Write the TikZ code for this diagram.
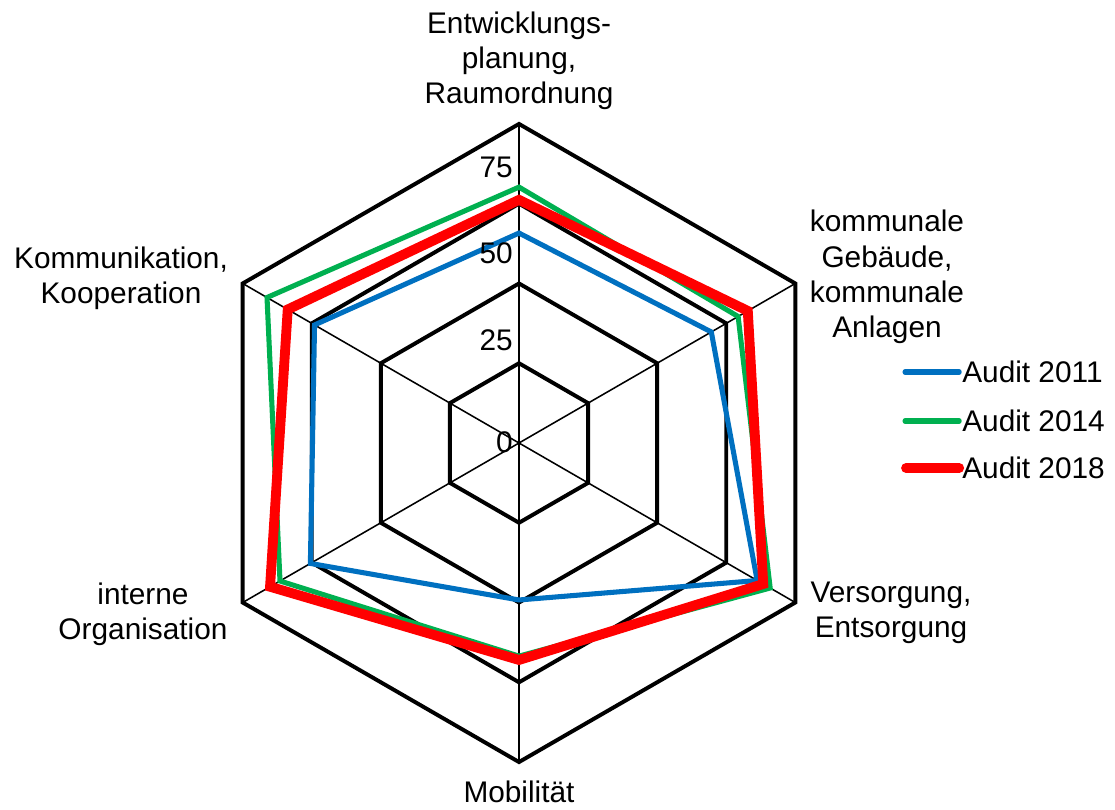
\documentclass[tikz,border=0pt]{standalone}
\usepackage{fontspec}
\setmainfont{Liberation Sans}
\usetikzlibrary{positioning}
\definecolor{blue2011}{HTML}{0070C0}
\definecolor{green2014}{HTML}{00B050}
\definecolor{red2018}{HTML}{FF0000}

\begin{document}
\begin{tikzpicture}[
	x=0.025cm, y=0.025cm,
	ring/.style={line width=2.8pt, line join=miter},
	spoke/.style={line width=1.1pt},
	audit11/.style={blue2011, line width=3.6pt, line join=miter},
	audit14/.style={green2014, line width=3.6pt, line join=miter},
	audit18/.style={red2018, line width=7pt, line join=miter},
	every node/.style={font=\fontsize{21.2}{25}\selectfont, inner sep=0pt},
]
\useasboundingbox (0,0) rectangle (1115,809);

\coordinate (o) at (519,366);

\begin{scope}[shift={(o)}, x=0.07975cm, y=0.07975cm]
% Axis ends
\coordinate (ax1) at (90:100);
\coordinate (ax2) at (30:100);
\coordinate (ax3) at (-30:100);
\coordinate (ax4) at (-90:100);
\coordinate (ax5) at (-150:100);
\coordinate (ax6) at (150:100);

% Spokes
\draw[spoke] (o) -- (ax1);
\draw[spoke] (o) -- (ax2);
\draw[spoke] (o) -- (ax3);
\draw[spoke] (o) -- (ax4);
\draw[spoke] (o) -- (ax5);
\draw[spoke] (o) -- (ax6);

% Rings
\draw[ring] (90:25) -- (30:25) -- (-30:25) -- (-90:25) -- (-150:25) -- (150:25) -- cycle;
\draw[ring] (90:50) -- (30:50) -- (-30:50) -- (-90:50) -- (-150:50) -- (150:50) -- cycle;
\draw[ring] (90:75) -- (30:75) -- (-30:75) -- (-90:75) -- (-150:75) -- (150:75) -- cycle;
\draw[ring] (ax1) -- (ax2) -- (ax3) -- (ax4) -- (ax5) -- (ax6) -- cycle;

% Audits
\draw[audit11] (90:65.8) -- (30:69.6) -- (-30:86.2) -- (-90:49.2) -- (-150:75.5) -- (150:74) -- cycle;
\draw[audit14] (90:80.2) -- (30:79.3) -- (-30:90.9) -- (-90:66.8) -- (-150:86.5) -- (150:91.2) -- cycle;
\draw[audit18] (90:76.2) -- (30:82.8) -- (-30:88.4) -- (-90:68) -- (-150:90.1) -- (150:83.7) -- cycle;
\end{scope}

% Scale labels
\node[anchor=east](t0) at (513,367) {0};
\node[anchor=east](t25) at (513,469) {25};
\node[anchor=east](t50) at (513,556) {50};
\node[anchor=east](t75) at (513,642) {75};

% Axis labels
\node[align=center](entw) at (519,748) {Entwicklungs-\\planung,\\Raumordnung};
\node[align=center](geb) at (887,532) {kommunale\\Gebäude,\\kommunale\\Anlagen};
\node[align=center](vers) at (891,196) {Versorgung,\\Entsorgung};
\node[align=center](mob) at (519,17) {Mobilität};
\node[align=center](intern) at (143,195) {interne\\Organisation};
\node[align=center](komm) at (121,531) {Kommunikation,\\Kooperation};

% Legend
\node[anchor=west](leg11) at (962,437) {Audit 2011};
\node[anchor=west](leg14) at (962,388) {Audit 2014};
\node[anchor=west](leg18) at (962,341) {Audit 2018};
\coordinate (leg11s) at (905,437);
\coordinate (leg14s) at (905,388);
\coordinate (leg18s) at (906,341);
\draw[audit11, line cap=round] (leg11s) -- ([xshift=-2pt]leg11.west);
\draw[audit14, line cap=round] (leg14s) -- ([xshift=-2pt]leg14.west);
\draw[audit18, line cap=round] (leg18s) -- ([xshift=-2pt]leg18.west);
\end{tikzpicture}
\end{document}
